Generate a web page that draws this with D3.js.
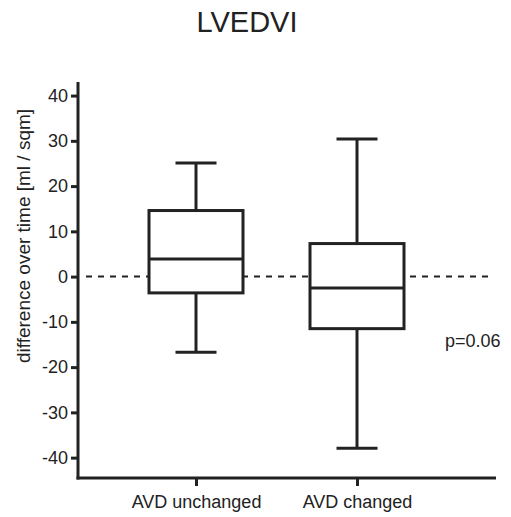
<!DOCTYPE html>
<html>
<head>
<meta charset="utf-8">
<script src="https://cdn.jsdelivr.net/npm/d3@7"></script>
<style>
  body { margin: 0; background: #fff; }
  svg text { font-family: "Liberation Sans", Arial, Helvetica, sans-serif; fill: #222; }
</style>
</head>
<body>
<div class="chart"></div>
<script>
    // data
    const groups = ["AVD unchanged", "AVD changed"]
    const whiskerLow = [-16.7, -37.9]
    const q1 = [-3.6, -11.5]
    const median = [3.9, -2.5]
    const q3 = [14.6, 7.3]
    const whiskerHigh = [25.1, 30.4]
    const yTicks = [-40, -30, -20, -10, 0, 10, 20, 30, 40]
    const title = "LVEDVI"
    const yLabel = "difference over time [ml / sqm]"
    const pText = "p=0.06"

    const W = 511, H = 517
    const margin = ({top: 82, right: 16, bottom: 39, left: 78})
    const width = W - margin.left - margin.right,
          height = H - margin.top - margin.bottom;

    let svg = d3.select(".chart").append("svg")
                .attr("width", W)
                .attr("height", H)
                .append("g")
                .attr("transform", "translate(" + margin.left + "," + margin.top + ")");

    const xScale = d3.scalePoint()
            .domain(groups)
            .range([118, 279])

    const yScale = d3.scaleLinear()
            .domain([-44.5, 43])
            .range([height, 0])

    const boxW = 94, capW = 41

    const data = groups.map((g, i) => ({
        group: g, lo: whiskerLow[i], q1: q1[i], med: median[i], q3: q3[i], hi: whiskerHigh[i]
    }))

    // zero reference line (dashed), drawn under the boxes
    svg.append("line")
        .attr("x1", 2)
        .attr("x2", 410)
        .attr("y1", yScale(0))
        .attr("y2", yScale(0))
        .attr("stroke", "#222")
        .attr("stroke-width", 2)
        .attr("stroke-dasharray", "6,6")
        .attr("stroke-dashoffset", -6)

    const box = svg.selectAll(".box")
        .data(data)
        .enter()
        .append("g")
        .attr("class", "box")
        .attr("transform", d => `translate(${xScale(d.group)},0)`)

    // whiskers
    box.append("line")
        .attr("x1", 0).attr("x2", 0)
        .attr("y1", d => yScale(d.hi))
        .attr("y2", d => yScale(d.lo))
        .attr("stroke", "#222")
        .attr("stroke-width", 3)

    box.selectAll(".cap")
        .data(d => [d.lo, d.hi])
        .enter()
        .append("line")
        .attr("class", "cap")
        .attr("x1", -capW / 2).attr("x2", capW / 2)
        .attr("y1", v => yScale(v))
        .attr("y2", v => yScale(v))
        .attr("stroke", "#222")
        .attr("stroke-width", 3)

    box.append("rect")
        .attr("x", -boxW / 2)
        .attr("width", boxW)
        .attr("y", d => yScale(d.q3))
        .attr("height", d => yScale(d.q1) - yScale(d.q3))
        .attr("fill", "#fff")
        .attr("stroke", "#222")
        .attr("stroke-width", 3)

    box.append("line")
        .attr("x1", -boxW / 2).attr("x2", boxW / 2)
        .attr("y1", d => yScale(d.med))
        .attr("y2", d => yScale(d.med))
        .attr("stroke", "#222")
        .attr("stroke-width", 3)

    // axes
    let yAxis = d3.axisLeft(yScale)
        .tickValues(yTicks)
        .tickFormat(d => String(d))
        .tickSize(7)
        .tickPadding(3)
        .tickSizeOuter(0)

    let gy = svg.append("g")
        .attr("class", "axis y-axis")
        .call(yAxis)
    gy.select(".domain").remove()
    gy.selectAll(".tick line").attr("stroke", "#222").attr("stroke-width", 3)
    gy.selectAll(".tick text").style("font-size", "18px")
    gy.append("line")
        .attr("x1", 0).attr("x2", 0)
        .attr("y1", 0).attr("y2", height + 1.5)
        .attr("stroke", "#222").attr("stroke-width", 3)

    let xAxis = d3.axisBottom(xScale)
        .tickSize(8)
        .tickPadding(9)
        .tickSizeOuter(0)

    let gx = svg.append("g")
        .attr("class", "axis x-axis")
        .attr("transform", `translate(0, ${height})`)
        .call(xAxis)
    gx.select(".domain").remove()
    gx.selectAll(".tick line").attr("stroke", "#222").attr("stroke-width", 3)
    gx.selectAll(".tick text").style("font-size", "18px")
    gx.append("line")
        .attr("x1", -1.5).attr("x2", width + 1)
        .attr("y1", 0).attr("y2", 0)
        .attr("stroke", "#222").attr("stroke-width", 3)

    // labels
    svg.append("text")
        .attr("x", 169)
        .attr("y", -50)
        .attr("text-anchor", "middle")
        .style("font-size", "29px")
        .text(title)

    svg.append("text")
        .attr("transform", `translate(-48, 154) rotate(-90)`)
        .attr("text-anchor", "middle")
        .style("font-size", "19px")
        .text(yLabel)

    svg.append("text")
        .attr("x", 367)
        .attr("y", 265)
        .style("font-size", "18px")
        .text(pText)
</script>
</body>
</html>
